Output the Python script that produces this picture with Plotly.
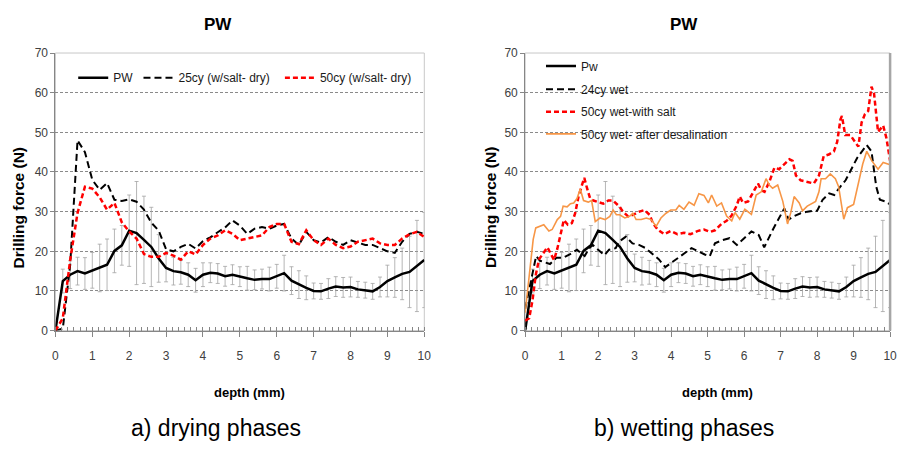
import plotly.graph_objects as go

# ---------------------------------------------------------------- data
DEPTH = [0.0, 0.2, 0.4, 0.6, 0.8, 1.0, 1.2, 1.4, 1.6, 1.8,
         2.0, 2.2, 2.4, 2.6, 2.8, 3.0, 3.2, 3.4, 3.6, 3.8,
         4.0, 4.2, 4.4, 4.6, 4.8, 5.0, 5.2, 5.4, 5.6, 5.8,
         6.0, 6.2, 6.4, 6.6, 6.8, 7.0, 7.2, 7.4, 7.6, 7.8,
         8.0, 8.2, 8.4, 8.6, 8.8, 9.0, 9.2, 9.4, 9.6, 9.8, 10.0]

# untreated stone (PW): mean drilling force and its standard deviation
PW_FORCE = [0.0, 12.5, 14.1, 15.0, 14.4, 15.2, 15.8, 16.6, 20.1, 21.5,
            25.2, 24.6, 22.9, 21.1, 18.2, 15.8, 15.0, 14.7, 14.1, 12.7,
            14.1, 14.6, 14.4, 13.7, 14.1, 13.6, 13.2, 12.8, 13.0, 13.0,
            13.7, 14.5, 12.6, 11.6, 10.8, 10.0, 9.9, 10.6, 11.1, 10.9,
            11.0, 10.4, 10.2, 9.9, 11.0, 12.5, 13.4, 14.3, 14.8, 16.3, 17.8]
PW_SD = [0.5, 3.0, 3.5, 3.5, 4.0, 4.5, 6.0, 6.5, 5.5, 5.0,
         9.0, 13.0, 11.0, 10.0, 6.0, 3.5, 3.5, 3.0, 3.0, 3.0,
         3.0, 2.5, 2.5, 2.5, 2.5, 2.5, 3.0, 2.5, 2.5, 3.0,
         3.0, 4.5, 3.5, 3.5, 3.0, 2.0, 2.0, 2.5, 2.5, 2.5,
         2.5, 2.0, 2.0, 2.0, 2.5, 4.0, 5.0, 6.5, 9.0, 11.5, 12.0]

# drying phases
DRY25_FORCE = [0.0, 0.5, 16.5, 48.0, 45.0, 38.0, 35.5, 37.2, 33.0, 32.7,
               33.1, 32.5, 30.5, 27.2, 25.2, 20.5, 20.0, 21.1, 21.9, 20.7,
               22.6, 23.5, 24.8, 26.0, 27.8, 26.5, 24.4, 25.7, 26.1, 25.7,
               26.5, 26.9, 23.2, 21.6, 24.9, 22.8, 22.2, 23.6, 22.4, 21.6,
               22.8, 22.2, 21.6, 21.6, 20.8, 20.0, 19.6, 22.4, 24.4, 24.9, 24.4]
DRY50_FORCE = [0.0, 3.1, 17.8, 29.7, 36.3, 35.8, 33.6, 30.5, 32.2, 27.3,
               25.0, 23.2, 19.3, 18.6, 18.6, 19.6, 18.9, 17.9, 20.0, 19.2,
               21.6, 23.2, 24.0, 25.3, 24.4, 22.8, 23.2, 23.6, 24.0, 26.1,
               26.9, 26.9, 22.4, 21.8, 25.3, 22.8, 21.6, 23.2, 21.6, 20.8,
               21.2, 22.4, 22.8, 23.2, 22.0, 21.6, 21.6, 23.2, 24.3, 24.9, 23.6]

# wetting phases
WET24_DEPTH = [0.0, 0.30, 0.41, 0.68, 0.86, 1.04, 1.22, 1.42, 1.63, 1.76,
               1.85, 2.03, 2.17, 2.30, 2.48, 2.57, 2.76, 2.94, 3.12, 3.30,
               3.48, 3.66, 3.84, 4.02, 4.20, 4.38, 4.56, 4.74, 4.92, 5.06,
               5.20, 5.40, 5.60, 5.80, 6.00, 6.20, 6.40, 6.55, 6.80, 7.00,
               7.10, 7.22, 7.35, 7.55, 7.73, 7.91, 8.00, 8.15, 8.33, 8.47,
               8.60, 8.78, 8.96, 9.10, 9.36, 9.49, 9.62, 9.72, 9.86, 10.0]
WET24_FORCE = [5.5, 18.8, 17.6, 16.8, 18.4, 18.4, 19.2, 20.4, 18.8, 20.8,
               21.6, 20.0, 19.0, 20.4, 20.8, 22.4, 23.7, 22.0, 21.6, 20.8,
               19.4, 18.0, 16.0, 17.2, 18.4, 19.6, 20.8, 20.0, 19.2, 18.8,
               22.0, 22.8, 23.3, 21.6, 23.3, 25.0, 24.1, 21.0, 25.7, 29.3,
               30.8, 28.0, 28.8, 29.6, 30.0, 30.2, 30.2, 33.0, 34.6, 34.2,
               35.9, 37.9, 41.1, 43.6, 46.8, 45.2, 36.3, 33.0, 32.6, 31.8]

WET50_DEPTH = [0.0, 0.11, 0.20, 0.29, 0.38, 0.51, 0.61, 0.70, 0.79, 0.88,
               0.97, 1.06, 1.17, 1.28, 1.37, 1.46, 1.55, 1.62, 1.69, 1.78,
               1.87, 2.01, 2.14, 2.28, 2.41, 2.59, 2.68, 2.82, 2.95, 3.13,
               3.27, 3.41, 3.50, 3.63, 3.81, 3.99, 4.17, 4.35, 4.53, 4.72,
               4.90, 5.07, 5.20, 5.38, 5.52, 5.65, 5.79, 5.88, 5.97, 6.11,
               6.24, 6.38, 6.47, 6.56, 6.69, 6.83, 6.96, 7.10, 7.24, 7.33,
               7.42, 7.55, 7.73, 7.91, 8.05, 8.18, 8.32, 8.46, 8.55, 8.64,
               8.68, 8.77, 8.91, 9.04, 9.13, 9.22, 9.31, 9.40, 9.49, 9.56,
               9.67, 9.81, 9.90, 10.0]
WET50_FORCE = [2.5, 3.1, 7.6, 14.0, 18.0, 19.8, 21.0, 19.4, 17.8, 20.6,
               24.3, 27.9, 26.7, 27.1, 29.6, 33.7, 36.5, 38.5, 36.1, 33.3,
               32.8, 32.4, 32.0, 32.8, 32.8, 31.2, 30.0, 28.8, 29.2, 30.0,
               30.4, 29.2, 27.1, 25.5, 24.3, 25.1, 24.3, 24.7, 24.3, 25.1,
               25.5, 24.9, 25.3, 26.9, 27.7, 28.9, 31.4, 33.8, 32.2, 32.6,
               34.6, 37.1, 35.4, 35.0, 37.5, 41.1, 40.7, 42.0, 43.2, 42.8,
               39.1, 37.9, 37.5, 37.1, 39.1, 44.0, 44.4, 45.2, 47.6, 53.3,
               54.1, 49.3, 49.3, 47.6, 46.4, 52.5, 54.6, 55.4, 61.5, 59.8,
               50.1, 51.7, 48.5, 42.8]

DESAL_DEPTH = [0.0, 0.15, 0.22, 0.29, 0.42, 0.51, 0.65, 0.74, 0.88, 0.97,
               1.04, 1.15, 1.24, 1.33, 1.42, 1.51, 1.60, 1.73, 1.82, 1.92,
               2.05, 2.19, 2.32, 2.41, 2.50, 2.59, 2.73, 2.86, 2.95, 3.04,
               3.18, 3.32, 3.45, 3.59, 3.72, 3.86, 3.99, 4.13, 4.22, 4.35,
               4.49, 4.63, 4.76, 4.90, 5.02, 5.11, 5.25, 5.38, 5.52, 5.66,
               5.75, 5.88, 6.02, 6.20, 6.33, 6.47, 6.60, 6.69, 6.78, 6.92,
               7.06, 7.19, 7.28, 7.37, 7.51, 7.60, 7.73, 7.87, 7.96, 8.05,
               8.11, 8.23, 8.36, 8.50, 8.59, 8.73, 8.83, 9.00, 9.13, 9.25,
               9.36, 9.50, 9.67, 9.81, 10.0]
DESAL_FORCE = [4.5, 16.5, 23.0, 25.9, 26.3, 26.7, 25.1, 25.5, 28.0, 28.8,
               31.4, 31.2, 32.0, 32.2, 33.3, 35.7, 32.8, 32.4, 32.8, 27.5,
               28.4, 28.0, 28.8, 30.4, 29.2, 29.2, 28.4, 28.8, 29.6, 28.0,
               28.0, 28.4, 28.0, 26.3, 28.4, 29.6, 30.4, 30.4, 31.6, 30.6,
               32.4, 31.6, 34.5, 34.1, 32.2, 34.2, 31.4, 32.2, 28.9, 27.7,
               29.8, 28.1, 30.6, 29.3, 34.2, 35.0, 38.3, 36.7, 35.9, 36.7,
               32.6, 26.9, 29.8, 33.8, 32.2, 30.2, 31.4, 32.2, 32.6, 35.0,
               38.3, 38.3, 39.5, 38.3, 36.3, 28.1, 31.0, 31.8, 37.1, 42.0,
               45.2, 42.8, 40.7, 42.4, 41.8]

PANEL_TITLES = ["PW", "PW"]
CAPTIONS = ["a) drying phases", "b) wetting phases"]
Y_TITLE = "Drilling force (N)"
X_TITLE = "depth (mm)"

# ---------------------------------------------------------------- styling
W, H = 906, 450
FONT = "Liberation Sans, Arial"
AXIS_GREY = "#868686"
GRID_GREY = "#8a8a8a"
TICK_TEXT = "#404040"
BLACK = "#000000"
RED = "#ff0000"
ORANGE = "#f79646"
ERR_GREY = "#a3a3a3"


def px_x(v):
    return v / W


def px_y(v):
    return 1 - v / H


LEFT_DOM = [px_x(53), px_x(426)]
RIGHT_DOM = [px_x(528), px_x(897)]
Y_DOM = [px_y(334), px_y(47.5)]

fig = go.Figure()

# ---- a) drying phases
fig.add_trace(go.Scatter(
    x=DEPTH, y=PW_FORCE, name="PW", mode="lines", showlegend=True,
    line=dict(color=BLACK, width=2.5),
    error_y=dict(type="data", array=PW_SD, color=ERR_GREY,
                 thickness=0.8, width=2),
    xaxis="x", yaxis="y", legend="legend"))
fig.add_trace(go.Scatter(
    x=DEPTH, y=DRY25_FORCE, name="25cy (w/salt- dry)", mode="lines",
    line=dict(color=BLACK, width=2, dash="7px,4px"), showlegend=True,
    xaxis="x", yaxis="y", legend="legend2"))
fig.add_trace(go.Scatter(
    x=DEPTH, y=DRY50_FORCE, name="50cy (w/salt- dry)", mode="lines",
    line=dict(color=RED, width=2.5, dash="5px,3px"), showlegend=True,
    xaxis="x", yaxis="y", legend="legend3"))

# ---- b) wetting phases
fig.add_trace(go.Scatter(
    x=DEPTH, y=PW_FORCE, name="Pw", mode="lines", showlegend=True,
    line=dict(color=BLACK, width=2.5),
    error_y=dict(type="data", array=PW_SD, color=ERR_GREY,
                 thickness=0.8, width=2),
    xaxis="x2", yaxis="y2", legend="legend4"))
fig.add_trace(go.Scatter(
    x=WET24_DEPTH, y=WET24_FORCE, name="24cy wet", mode="lines",
    line=dict(color=BLACK, width=2, dash="7px,4px"), showlegend=True,
    xaxis="x2", yaxis="y2", legend="legend5"))
fig.add_trace(go.Scatter(
    x=WET50_DEPTH, y=WET50_FORCE, name="50cy wet-with salt", mode="lines",
    line=dict(color=RED, width=2.5, dash="5px,3px"), showlegend=True,
    xaxis="x2", yaxis="y2", legend="legend6"))
fig.add_trace(go.Scatter(
    x=DESAL_DEPTH, y=DESAL_FORCE, name="50cy wet- after desalination",
    mode="lines", line=dict(color=ORANGE, width=1.6), showlegend=True,
    xaxis="x2", yaxis="y2", legend="legend7"))

x_common = dict(
    range=[0, 10], tick0=0, dtick=1, showgrid=False, zeroline=False,
    showline=True, linecolor=AXIS_GREY, linewidth=1,
    ticks="outside", ticklen=5, tickcolor=AXIS_GREY,
    tickfont=dict(family=FONT, size=12, color=TICK_TEXT),
    ticklabelstandoff=9,
    minor=dict(dtick=1 / 6, tick0=0, ticks="inside", ticklen=4,
               tickcolor=AXIS_GREY, showgrid=False),
)
y_common = dict(
    range=[0, 70], tick0=0, dtick=10, zeroline=False,
    showgrid=True, gridcolor=GRID_GREY, gridwidth=1, griddash="3px,2px",
    showline=True, linecolor=AXIS_GREY, linewidth=1,
    ticks="outside", ticklen=4, tickcolor=AXIS_GREY,
    tickfont=dict(family=FONT, size=12, color=TICK_TEXT),
    domain=Y_DOM,
)

legend_base = dict(
    orientation="h", xanchor="left", yanchor="middle",
    bgcolor="rgba(0,0,0,0)", borderwidth=0, itemwidth=30,
    font=dict(family=FONT, size=12, color="#1a1a1a"),
)
legend_pos = {
    "legend": (71, 73), "legend2": (137, 73), "legend3": (280, 73),
    "legend4": (544, 61), "legend5": (544, 85), "legend6": (544, 108),
    "legend7": (544, 131),
}
legends = {k: dict(legend_base, x=px_x(xp), y=px_y(yp))
           for k, (xp, yp) in legend_pos.items()}

annotations = []
for cx, title in zip([217, 689], PANEL_TITLES):
    annotations.append(dict(
        text=f"<b>{title}</b>", x=px_x(cx), y=px_y(18), xref="paper",
        yref="paper", showarrow=False, xanchor="center", yanchor="middle",
        font=dict(family=FONT, size=17, color=BLACK)))
for cx, cap in zip([215, 689], CAPTIONS):
    annotations.append(dict(
        text=cap, x=px_x(cx), y=px_y(435), xref="paper", yref="paper",
        showarrow=False, xanchor="center", yanchor="middle",
        font=dict(family=FONT, size=23, color=BLACK)))
for cx in [249, 722]:
    annotations.append(dict(
        text=f"<b>{X_TITLE}</b>", x=px_x(cx), y=px_y(398), xref="paper",
        yref="paper", showarrow=False, xanchor="center", yanchor="middle",
        font=dict(family=FONT, size=13, color=BLACK)))
for cx in [16, 493]:
    annotations.append(dict(
        text=f"<b>{Y_TITLE}</b>", x=px_x(cx), y=px_y(207), xref="paper",
        yref="paper", showarrow=False, textangle=-90, xanchor="center",
        yanchor="middle", font=dict(family=FONT, size=15.5, color=BLACK)))

shapes = [
    # light frame around each plotting area
    dict(type="rect", xref="x domain", yref="y domain", x0=0, x1=1, y0=0,
         y1=1, line=dict(color="#c8c8c8", width=1), layer="below"),
    dict(type="rect", xref="x2 domain", yref="y2 domain", x0=0, x1=1, y0=0,
         y1=1, line=dict(color="#c8c8c8", width=1), layer="below"),
    dict(type="line", xref="x2 domain", yref="y2 domain", x0=1, x1=1, y0=0,
         y1=1, line=dict(color="#a6a6a6", width=2.5), layer="above"),
]

fig.update_layout(
    width=W, height=H, margin=dict(l=0, r=0, t=0, b=0),
    paper_bgcolor="white", plot_bgcolor="white", showlegend=True,
    xaxis=dict(x_common, domain=LEFT_DOM, anchor="y"),
    yaxis=dict(y_common, anchor="x"),
    xaxis2=dict(x_common, domain=RIGHT_DOM, anchor="y2"),
    yaxis2=dict(y_common, anchor="x2"),
    annotations=annotations, shapes=shapes,
    **legends,
)

fig.write_html("out.html")
